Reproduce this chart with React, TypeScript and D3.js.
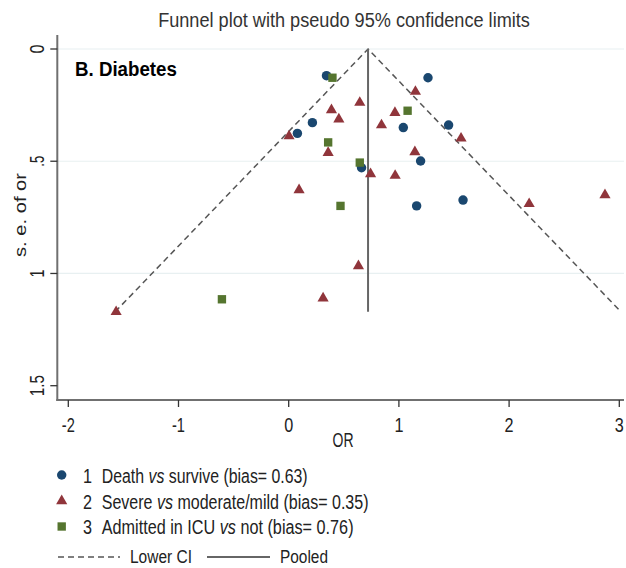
import React, { useRef, useEffect } from "react";
import * as d3 from "d3";

// study estimates: [OR (log), s.e.]
const deathPoints: [number, number][] = [
  [0.343, 0.119], [0.215, 0.328], [0.079, 0.376], [1.264, 0.128], [1.04, 0.35],
  [1.451, 0.339], [1.197, 0.499], [0.661, 0.529], [1.161, 0.699], [1.582, 0.673],
];
const severePoints: [number, number][] = [
  [0.388, 0.272], [0.455, 0.313], [0.003, 0.388], [0.358, 0.462], [0.094, 0.628],
  [1.15, 0.19], [0.645, 0.239], [0.964, 0.284], [0.842, 0.339], [1.564, 0.398],
  [1.145, 0.459], [0.743, 0.557], [0.966, 0.564], [2.182, 0.69], [2.87, 0.65],
  [0.312, 1.11], [-1.566, 1.171], [0.633, 0.967],
];
const icuPoints: [number, number][] = [
  [0.397, 0.128], [0.358, 0.416], [0.47, 0.699], [1.079, 0.275], [0.645, 0.506],
  [-0.606, 1.115],
];
const seriesLabels = [
  ["1", "Death ", "vs", " survive (bias= 0.63)"],
  ["2", "Severe ", "vs", " moderate/mild (bias= 0.35)"],
  ["3", "Admitted in ICU ", "vs", " not (bias= 0.76)"],
];
const pooled = 0.72;
const maxSe = 1.171;
const xTicks = [-2, -1, 0, 1, 2, 3];
const yTicks = [0, 0.5, 1, 1.5];
const yTickLabels = ["0", ".5", "1", "1.5"];

const colors = ["#1a476f", "#90353b", "#55752f"];
const FONT = "'Liberation Sans', Arial, sans-serif";

// squeeze a text horizontally so it looks like Arial Narrow and fills the given width
const fitText = (t: any, x: number, y: number, width: number, rotate = 0) => {
  const len = t.node().getComputedTextLength();
  const k = width / len;
  t.attr("transform", `translate(${x},${y}) rotate(${rotate}) scale(${k},1)`);
};

const App = () => {
  const ref: any = useRef();

  useEffect(() => {
    const svg = d3.select(ref.current);
    svg.selectAll("*").remove();

    const x = d3.scaleLinear().domain([-2, 3]).range([68.3, 619.3]);
    const y = d3.scaleLinear().domain([0, 1.5]).range([49, 385.7]);
    const left = 57.3;
    const bottom = 400;

    const addText = (str: string, size: number, anchor = "start", color = "#222") =>
      svg
        .append("text")
        .attr("text-anchor", anchor)
        .attr("font-family", FONT)
        .attr("font-size", size)
        .attr("fill", color)
        .text(str);

    // grid lines
    svg
      .selectAll(".grid")
      .data(yTicks.slice(0, 3))
      .enter()
      .append("line")
      .attr("x1", left)
      .attr("x2", 624)
      .attr("y1", (d) => y(d))
      .attr("y2", (d) => y(d))
      .attr("stroke", "#e8f0f1")
      .attr("stroke-width", 1.2);

    // funnel
    const ciLine = d3.line<[number, number]>().x((d) => x(d[0])).y((d) => y(d[1]));
    svg
      .append("path")
      .attr(
        "d",
        ciLine([
          [pooled - 1.96 * maxSe, maxSe],
          [pooled, 0],
          [pooled + 1.96 * maxSe, maxSe],
        ])
      )
      .attr("fill", "none")
      .attr("stroke", "#555")
      .attr("stroke-width", 1.5)
      .attr("stroke-dasharray", "6,4");
    svg
      .append("line")
      .attr("x1", x(pooled))
      .attr("x2", x(pooled))
      .attr("y1", y(0))
      .attr("y2", y(maxSe))
      .attr("stroke", "#666")
      .attr("stroke-width", 2);

    // axes
    svg
      .append("line")
      .attr("x1", left)
      .attr("x2", left)
      .attr("y1", 35)
      .attr("y2", bottom + 1)
      .attr("stroke", "#707070")
      .attr("stroke-width", 2);
    svg
      .append("line")
      .attr("x1", left - 1)
      .attr("x2", 624)
      .attr("y1", bottom)
      .attr("y2", bottom)
      .attr("stroke", "#707070")
      .attr("stroke-width", 2);

    xTicks.forEach((d) => {
      svg
        .append("line")
        .attr("x1", x(d))
        .attr("x2", x(d))
        .attr("y1", bottom)
        .attr("y2", bottom + 7)
        .attr("stroke", "#333")
        .attr("stroke-width", 1.3);
      const t = addText(String(d), 20, "middle");
      fitText(t, x(d), bottom + 32, d < 0 ? 13 : 9);
    });

    yTicks.forEach((d, i) => {
      svg
        .append("line")
        .attr("x1", left - 7)
        .attr("x2", left)
        .attr("y1", y(d))
        .attr("y2", y(d))
        .attr("stroke", "#333")
        .attr("stroke-width", 1.3);
      const t = addText(yTickLabels[i], 20, "middle");
      fitText(t, 44, y(d), [9, 11, 8, 21][i], -90);
    });

    // axis titles
    fitText(addText("s. e. of or", 17, "middle"), 26, 215, 84, -90);
    fitText(addText("OR", 20, "middle"), 343, 447, 21);
    fitText(
      addText("Funnel plot with pseudo 95% confidence limits", 20, "middle", "#333"),
      344,
      27,
      372
    );
    fitText(addText("B. Diabetes", 21, "start", "#000").attr("font-weight", "bold"), 75, 76, 102);

    // markers
    const shapes = [
      d3.symbol().type(d3.symbolCircle).size(70),
      d3.symbol().type(d3.symbolTriangle).size(54),
      d3.symbol().type(d3.symbolSquare).size(70),
    ];
    [deathPoints, severePoints, icuPoints].forEach((pts, i) => {
      svg
        .append("g")
        .selectAll("path")
        .data(pts)
        .enter()
        .append("path")
        .attr("transform", (d) => `translate(${x(d[0])},${y(d[1])})`)
        .attr("d", shapes[i]() as string)
        .attr("fill", colors[i]);
    });

    // legend
    const rowY = [475, 501, 526.5];
    const textLens = [206, 267, 252];
    seriesLabels.forEach((lab, i) => {
      svg
        .append("path")
        .attr("transform", `translate(61.7,${rowY[i]})`)
        .attr("d", shapes[i]() as string)
        .attr("fill", colors[i]);
      fitText(addText(lab[0], 21, "middle"), 87.5, rowY[i] + 7.5, 9);
      const t = addText("", 21);
      t.append("tspan").text(lab[1]);
      t.append("tspan").attr("font-style", "italic").text(lab[2]);
      t.append("tspan").text(lab[3]);
      fitText(t, 101.7, rowY[i] + 7.5, textLens[i]);
    });

    svg
      .append("line")
      .attr("x1", 58)
      .attr("x2", 120)
      .attr("y1", 557)
      .attr("y2", 557)
      .attr("stroke", "#555")
      .attr("stroke-width", 1.5)
      .attr("stroke-dasharray", "6,4");
    svg
      .append("line")
      .attr("x1", 207)
      .attr("x2", 270)
      .attr("y1", 557)
      .attr("y2", 557)
      .attr("stroke", "#666")
      .attr("stroke-width", 2);
    fitText(addText("Lower CI", 19), 130, 563, 62);
    fitText(addText("Pooled", 19), 280, 563, 48);
  }, []);

  return (
    <svg
      width={626}
      height={568}
      style={{ position: "absolute", left: 0, top: 0, background: "#fff" }}
    >
      <g ref={ref}></g>
    </svg>
  );
};

export default App;
